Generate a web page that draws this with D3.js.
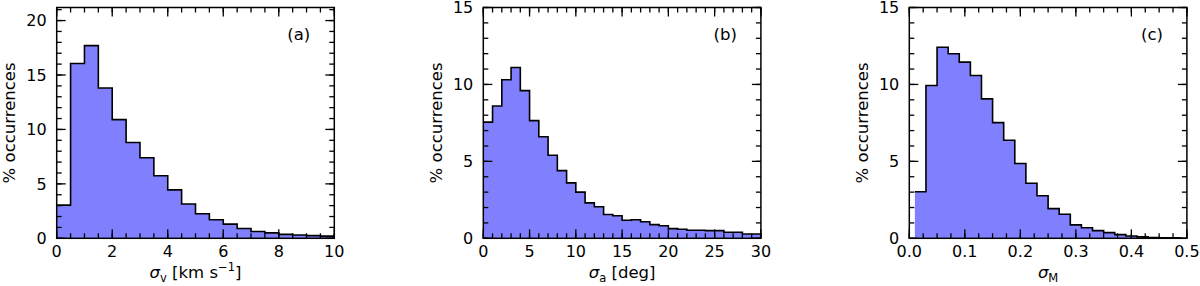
<!DOCTYPE html>
<html>
<head>
<meta charset="utf-8">
<script src="https://cdn.jsdelivr.net/npm/d3@7"></script>
<style>
  body { margin: 0; background: #fff; }
  svg { font-family: "DejaVu Sans", sans-serif; }
</style>
</head>
<body>
<svg id="chart" width="1200" height="286"></svg>
<script>
// % occurrences per bin
const sigmaV = [3.05, 16.05, 17.7, 13.8, 10.9, 8.8, 7.4, 5.75, 4.45, 3.15, 2.25, 1.7, 1.3, 0.9, 0.62, 0.5, 0.36, 0.3, 0.25, 0.2]
const sigmaA = [7.55, 8.6, 10.3, 11.1, 9.6, 7.65, 6.6, 5.4, 4.4, 3.6, 3.0, 2.3, 2.05, 1.55, 1.47, 1.17, 1.21, 1.08, 0.89, 0.82,
  0.63, 0.59, 0.52, 0.52, 0.5, 0.5, 0.39, 0.39, 0.28, 0.28]
const sigmaM = [3.03, 9.93, 12.42, 11.99, 11.45, 10.58, 9.06, 7.52, 6.37, 4.86, 3.58, 2.77, 1.93, 1.56, 0.87, 0.69, 0.5, 0.37,
  0.24, 0.15, 0.09, 0.05, 0.04, 0.03]

const yTicks = [0, 5, 10, 15, 20]
const panelLabels = ["(a)", "(b)", "(c)"]

const panels = [
  { values: sigmaV, start: 0, width: 0.5, xDomain: [0, 10], yMax: 21.2, xMajor: [0, 2, 4, 6, 8, 10], xMinor: 0.5,
    fmt: d3.format("d"), sym: "v", unit: "km s", sup: "−1", close: "]" },
  { values: sigmaA, start: 0, width: 1, xDomain: [0, 30], yMax: 15, xMajor: [0, 5, 10, 15, 20, 25, 30], xMinor: 1,
    fmt: d3.format("d"), sym: "a", unit: "deg", close: "]" },
  { values: sigmaM, start: 0.01, width: 0.02, xDomain: [0, 0.5], yMax: 15, xMajor: [0, 0.1, 0.2, 0.3, 0.4, 0.5], xMinor: 0.025,
    fmt: d3.format(".1f"), sym: "M" }
]

const svg = d3.select("#chart")
const lefts = [56.7, 483.3, 909.3]
const pw = 277.6
const plotTop = 7.5, plotBottom = 238.3

panels.forEach((p, i) => {
  const h = plotBottom - plotTop
  const x = d3.scaleLinear().domain(p.xDomain).range([0, pw])
  const y = d3.scaleLinear().domain([0, p.yMax]).range([h, 0])

  const g = svg.append("g").attr("transform", `translate(${lefts[i]}, ${plotTop})`)

  // step points for the histogram
  const pts = p.values.map((v, k) => [p.start + k * p.width, v])
  pts.push([p.start + p.values.length * p.width, p.values[p.values.length - 1]])

  g.append("path")
    .datum(pts)
    .attr("fill", "#8080ff")
    .attr("d", d3.area().curve(d3.curveStepAfter).x(d => x(d[0])).y0(y(0)).y1(d => y(d[1])))

  g.append("path")
    .datum(pts)
    .attr("fill", "none")
    .attr("stroke", "#000")
    .attr("stroke-width", 1.6)
    .attr("d", d3.line().curve(d3.curveStepAfter).x(d => x(d[0])).y(d => y(d[1])))

  // minor + major ticks, inward on all four sides
  const xMinor = d3.range(p.xDomain[0], p.xDomain[1] + 1e-9, p.xMinor)
  const yMinor = d3.range(0, p.yMax + 1e-9, 1)
  const yMajor = yTicks.filter(t => t <= p.yMax)

  const tick = (sel, data, len, dir) => {
    sel.selectAll(null).data(data).enter().append("line")
      .attr("stroke", "#000").attr("stroke-width", 1.3)
      .each(function(d) {
        const l = d3.select(this)
        if (dir === "b") l.attr("x1", x(d)).attr("x2", x(d)).attr("y1", h).attr("y2", h - len)
        if (dir === "t") l.attr("x1", x(d)).attr("x2", x(d)).attr("y1", 0).attr("y2", len)
        if (dir === "l") l.attr("y1", y(d)).attr("y2", y(d)).attr("x1", 0).attr("x2", len)
        if (dir === "r") l.attr("y1", y(d)).attr("y2", y(d)).attr("x1", pw).attr("x2", pw - len)
      })
  }
  tick(g, xMinor, 5, "b"); tick(g, xMinor, 5, "t")
  tick(g, p.xMajor, 9, "b"); tick(g, p.xMajor, 9, "t")
  tick(g, yMinor, 5, "l"); tick(g, yMinor, 5, "r")
  tick(g, yMajor, 9, "l"); tick(g, yMajor, 9, "r")

  g.append("rect")
    .attr("width", pw).attr("height", h)
    .attr("fill", "none").attr("stroke", "#000").attr("stroke-width", 1.5)

  g.selectAll(".xt").data(p.xMajor).enter().append("text")
    .attr("x", d => x(d)).attr("y", h + 19)
    .attr("text-anchor", "middle").attr("font-size", 16)
    .text(d => p.fmt(d))

  g.selectAll(".yt").data(yMajor).enter().append("text")
    .attr("x", -10).attr("y", d => y(d)).attr("dy", "0.36em")
    .attr("text-anchor", "end").attr("font-size", 16)
    .text(d => d)

  g.append("text")
    .attr("transform", `translate(-41.5, ${h / 2}) rotate(-90)`)
    .attr("text-anchor", "middle").attr("font-size", 16.5)
    .text("% occurrences")

  const xl = g.append("text")
    .attr("x", pw / 2).attr("y", 278 - plotTop)
    .attr("text-anchor", "middle").attr("font-size", 16.5)
  xl.append("tspan").attr("font-style", "italic").text("σ")
  xl.append("tspan").attr("font-size", 11.5).attr("dy", 4).text(p.sym)
  if (p.unit) {
    xl.append("tspan").attr("dy", -4).text(" [" + p.unit)
    if (p.sup) {
      xl.append("tspan").attr("font-size", 11.5).attr("dy", -7).text(p.sup)
      xl.append("tspan").attr("dy", 7).text(p.close)
    } else {
      xl.append("tspan").text(p.close)
    }
  }

  g.append("text")
    .attr("x", pw - 24).attr("y", 40 - plotTop)
    .attr("text-anchor", "end").attr("font-size", 16.5)
    .text(panelLabels[i])
})
</script>
</body>
</html>
